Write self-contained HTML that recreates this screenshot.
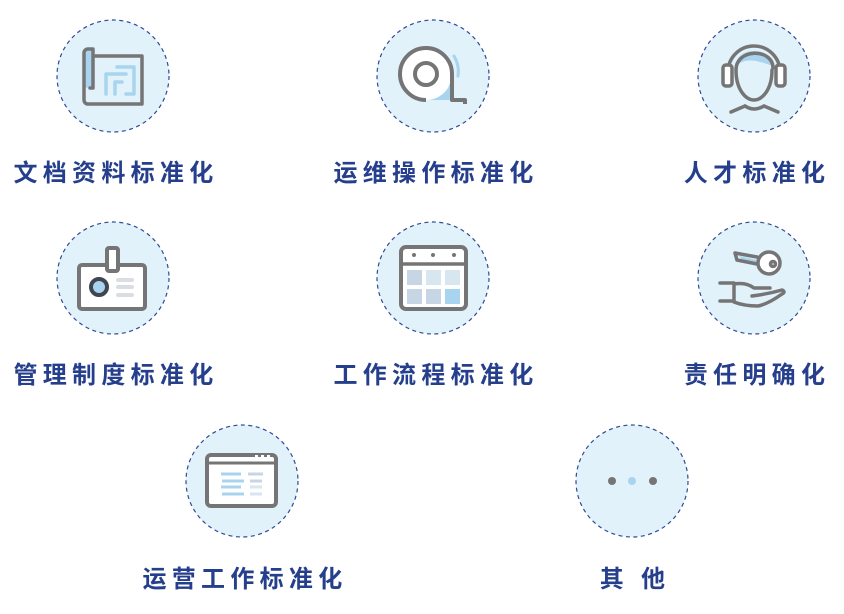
<!DOCTYPE html>
<html><head><meta charset="utf-8"><style>
html,body{margin:0;padding:0;background:#fff;width:844px;height:614px;overflow:hidden}
svg{display:block}
text{font-family:"Liberation Sans","Noto Sans CJK SC",sans-serif;font-size:24px;font-weight:bold;fill:#263f8c;letter-spacing:5.3px}
</style></head><body>
<svg width="844" height="614" viewBox="0 0 844 614">
<g fill="#e1f2fb" stroke="#2f4b96" stroke-width="1.2" stroke-dasharray="4 3.5">
<circle cx="113" cy="76" r="56"/><circle cx="433" cy="76" r="56"/><circle cx="754" cy="76" r="56"/>
<circle cx="113" cy="278" r="56"/><circle cx="433" cy="278" r="56"/><circle cx="754" cy="278" r="56"/>
<circle cx="242" cy="481" r="56"/><circle cx="632" cy="481" r="56"/>
</g>
<g stroke-linecap="round" stroke-linejoin="round">
<path d="M84 88 V53 a4 4 0 0 1 4 -4 h5 V87 Z" fill="#a8d4f0"/>
<path d="M94 56 H142 V104 H88 a4 4 0 0 1 -4 -4 V53 a4 4 0 0 1 4 -4 h5 V88 h-3" fill="none" stroke="#757575" stroke-width="3.5"/>
<path d="M117 67 H134 V94 H126 M106 94 V74 H126 M115 94 V82 H122" fill="none" stroke="#a8d4f0" stroke-width="3.5"/>
</g>
<g>
<path d="M400 74 a26 26 0 0 1 52 0 V100 H426 a26 26 0 0 1 -26 -26Z" fill="#fff"/>
<path d="M452 78 V100 H426 a26 26 0 0 0 22 -12 Z" fill="#a8d4f0"/>
<path d="M426 100 a26 26 0 1 1 26 -26 V100 H465 V104" fill="none" stroke="#757575" stroke-width="4" stroke-linejoin="round"/>
<circle cx="426" cy="74" r="11" fill="none" stroke="#757575" stroke-width="4"/>
<path d="M454 56 a30 30 0 0 1 4 20" fill="none" stroke="#a8d4f0" stroke-width="3" stroke-linecap="round"/>
</g>
<g fill="none" stroke="#757575" stroke-width="3.5" stroke-linecap="round" stroke-linejoin="round">
<path d="M736 66 c0 -20 36 -20 36 0 c-10 -4 -26 -10 -36 0Z" fill="#a8d4f0" stroke="none"/>
<path d="M736 70 c0 -22 37 -22 37 -2 M736 70 c0 20 10 30 18 30 s18 -10 18 -30"/>
<path d="M728 72 a26 26 0 0 1 52 0"/>
<rect x="723" y="65" width="9" height="21" rx="3" fill="#fff"/>
<rect x="776" y="65" width="9" height="21" rx="3" fill="#fff"/>
<path d="M731 112 l14 -6 M778 112 l-14 -6 M745 106 q9 6 19 0"/>
</g>
<g stroke="#757575" stroke-width="4" stroke-linejoin="round">
<rect x="79" y="265" width="66" height="44" rx="3" fill="#fff"/>
<rect x="107" y="248" width="11" height="23" rx="2" fill="#fff"/>
<circle cx="99" cy="287" r="8" fill="#a8d4f0" stroke="#404550"/>
<path d="M118 280h14 M118 287h14 M118 295h14" stroke="#dadde2" stroke-width="4" stroke-linecap="round"/>
</g>
<g>
<rect x="401" y="247" width="65" height="62" rx="5" fill="#fff" stroke="#757575" stroke-width="4"/>
<line x1="401" y1="264" x2="466" y2="264" stroke="#757575" stroke-width="3.5"/>
<circle cx="414" cy="255" r="2" fill="#757575"/><circle cx="433" cy="255" r="2" fill="#757575"/><circle cx="454" cy="255" r="2" fill="#757575"/>
<rect x="407" y="270" width="15" height="15" fill="#c6d6e4"/><rect x="426" y="270" width="15" height="15" fill="#d8e6f0"/><rect x="445" y="270" width="15" height="15" fill="#d8e6f0"/>
<rect x="407" y="289" width="15" height="15" fill="#c6d6e4"/><rect x="426" y="289" width="15" height="15" fill="#c6d6e4"/><rect x="445" y="289" width="15" height="15" fill="#a8d4f0"/>
</g>
<g fill="none" stroke="#757575" stroke-width="3.5" stroke-linecap="round" stroke-linejoin="round">
<path d="M739 256 l18 4 v4 l-14 -2 z" fill="#a8d4f0" stroke="none"/>
<path d="M735 253 l22 4 M737 260 l20 4 M735 253 l2 7"/>
<circle cx="769" cy="263" r="11" fill="#fff"/>
<circle cx="773" cy="264" r="2.5"/>
<path d="M720 283 h14 v18 h-14 M734 284 q12 -2 20 4 q10 0 16 0 M752 296 q16 -2 30 -6 q4 2 0 4 q-14 10 -24 12 q-14 0 -24 -4"/>
</g>
<g>
<rect x="207" y="455" width="69" height="51" rx="4" fill="#fff" stroke="#757575" stroke-width="4"/>
<line x1="207" y1="463" x2="276" y2="463" stroke="#757575" stroke-width="3"/>
<rect x="255" y="455" width="3" height="4" fill="#fff"/><rect x="261" y="455" width="3" height="4" fill="#fff"/><rect x="267" y="455" width="3" height="4" fill="#fff"/>
<g stroke-width="3"><path d="M221 474h20 M222 481h22 M221 487h20 M222 494h22" stroke="#a8d4f0"/>
<path d="M248 474h15 M250 481h12" stroke="#c6d6e4"/><path d="M250 487h12 M250 494h12" stroke="#d8e6f0"/></g>
</g>
<circle cx="612" cy="481" r="4" fill="#757575"/><circle cx="632" cy="481" r="4" fill="#a8d4f0"/><circle cx="653" cy="481" r="4" fill="#757575"/>
<g text-anchor="middle">
<text x="116" y="181">文档资料标准化</text>
<text x="436" y="181">运维操作标准化</text>
<text x="757" y="181">人才标准化</text>
<text x="116" y="383">管理制度标准化</text>
<text x="436" y="383">工作流程标准化</text>
<text x="757" y="383">责任明确化</text>
<text x="245" y="587">运营工作标准化</text>
<text x="635" y="587">其 他</text>
</g>
</svg>
</body></html>
